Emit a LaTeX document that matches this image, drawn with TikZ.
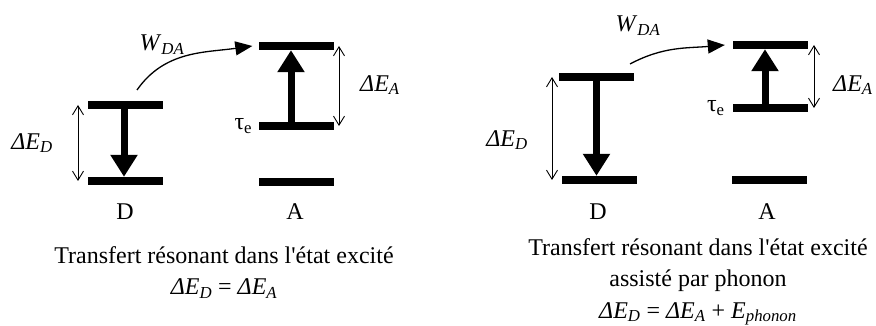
\documentclass[tikz,border=0pt]{standalone}
\usepackage{fontspec}
\setmainfont{Liberation Serif}
\usetikzlibrary{arrows.meta,positioning}
\newcommand{\txtsize}{\fontsize{24}{31.5}\selectfont}
\newcommand{\dE}[1]{\textit{ΔE}\textsubscript{\textit{#1}}}
\tikzset{
  lev/.style={fill=black, inner sep=0pt, minimum width=75pt, minimum height=8pt},
  lbl/.style={font=\txtsize, inner sep=0pt},
  pump/.style={-{Triangle[length=22pt,width=26pt]}, line width=7pt},
  gap/.style={{Straight Barb[length=9pt,width=11pt]}-{Straight Barb[length=9pt,width=11pt]}, line width=0.9pt},
  hop/.style={-{Triangle[length=17pt,width=14pt]}, line width=1.3pt},
}

\begin{document}
\begin{tikzpicture}[x=1pt, y=1pt]
  \useasboundingbox (0,0) rectangle (876,326);
  % resonant transfer
  \node[lev] (d1) at (125.5,221) {};
  \node[lev] (d0) at (125.5,145) {};
  \node[lev] (a2) at (296,280) {};
  \node[lev] (a1) at (296,200) {};
  \node[lev] (a0) at (296,144) {};
  \node[lbl] (dname) at (125,114) {D};
  \node[lbl] (aname) at (295,114) {A};
  \node[lbl] (edl) at (32,183) {\dE{D}};
  \node[lbl] (eal) at (380,241) {\dE{A}};
  \node[lbl, left=6pt of a1] (taul) {τ\textsubscript{e}};
  \node[lbl] (wl) at (162,281) {\textit{W}\textsubscript{\textit{DA}}};
  \node[lbl, align=center, anchor=north] (capl) at (224,80)
    {Transfert résonant dans l\textquotesingle état excité\\\dE{D} = \dE{A}};
  \coordinate (gdl) at (78,0);
  \coordinate (gal) at (339,0);
  \draw[pump] ([xshift=-1.5pt]d1.south) -- ([xshift=-1.5pt]d0.north);
  \draw[pump] ([xshift=-5pt]a1.north) -- ([xshift=-5pt]a2.south);
  \draw[gap] (gdl |- d1) -- (gdl |- d0);
  \draw[gap] (gal |- a2) -- (gal |- a1);
  \draw[hop] ([shift={(11.5pt,15pt)}]d1.center) to[out=55, in=188] ([xshift=-6pt]a2.west);

  % phonon assisted transfer
  \node[lev] (pd1) at (596.5,249) {};
  \node[lev] (pd0) at (599.5,146) {};
  \node[lev] (pa2) at (770.5,281) {};
  \node[lev] (pa1) at (770.5,218) {};
  \node[lev] (pa0) at (769.5,146) {};
  \node[lbl] (pdname) at (598,114) {D};
  \node[lbl] (paname) at (767,114) {A};
  \node[lbl] (edr) at (507,186) {\dE{D}};
  \node[lbl] (ear) at (853,241) {\dE{A}};
  \node[lbl, left=8pt of pa1] (taur) {τ\textsubscript{e}};
  \node[lbl] (wr) at (638,300) {\textit{W}\textsubscript{\textit{DA}}};
  \node[lbl, align=center, anchor=north] (capr) at (698,88)
    {Transfert résonant dans l\textquotesingle état excité\\assisté par phonon\\\dE{D} = \dE{A} + \textit{E}\textsubscript{\textit{phonon}}};
  \coordinate (gdr) at (552,0);
  \coordinate (gar) at (814,0);
  \draw[pump] (pd1.south) -- (pd1.south |- pd0.north);
  \draw[pump] ([xshift=-5.5pt]pa1.north) -- ([xshift=-5.5pt]pa2.south);
  \draw[gap] (gdr |- pd1) -- (gdr |- pd0);
  \draw[gap] (gar |- pa2) -- (gar |- pa1);
  \draw[hop] ([shift={(33.5pt,13pt)}]pd1.center) to[out=28, in=185] ([xshift=-8pt]pa2.west);
\end{tikzpicture}
\end{document}
